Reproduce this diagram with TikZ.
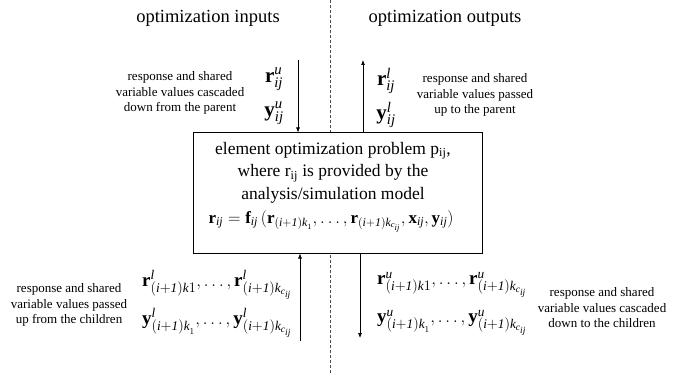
\documentclass[tikz,border=0pt]{standalone}
\usepackage{fontspec}
\setmainfont{Liberation Serif}
\setmathrm{Liberation Serif}
\setboldmathrm{Liberation Serif}
\usetikzlibrary{arrows.meta}
\newcommand\sij{\mathit{ij}}
\newcommand\kidx{\mathit{(i{+}1)k}}
\newcommand\kc{\mathit{k}_{\mathit{c}_{\mathit{ij}}}}
\tikzset{
  conn/.style={line width=0.7pt, -{Latex[length=5pt,width=4pt]}},
  divider/.style={line width=0.8pt, black!70, dash pattern=on 3pt off 2pt},
  title/.style={font=\fontsize{18.5}{22}\selectfont, inner sep=0pt},
  note/.style={font=\fontsize{13}{15.5}\selectfont, align=center, inner sep=0pt},
  bigmath/.style={font=\fontsize{21}{24}\selectfont, inner sep=0pt},
  midmath/.style={font=\fontsize{19}{24}\selectfont, inner sep=0pt},
  eqmath/.style={font=\fontsize{17}{22}\selectfont, inner sep=0pt},
  probbox/.style={draw, fill=white, line width=1pt, minimum width=289pt, minimum height=120pt, inner sep=0pt}
}
\begin{document}
\begin{tikzpicture}[x=1pt,y=-1pt]
\useasboundingbox (0,0) rectangle (698,374);
% divider
\coordinate (dtop) at (330,0);
\coordinate (dbot) at (330,374);
\draw[divider] (dtop) -- (dbot);
% titles
\node[title] (tin) at (208,18) {optimization inputs};
\node[title] (tout) at (445,18) {optimization outputs};
% box
\node[probbox] (box) at (337.5,193) {};
\node[font=\fontsize{17.5}{22.5}\selectfont, align=center, anchor=north, inner sep=0pt] (boxtext) at (333,142)
  {element optimization problem p\textsubscript{ij},\\ where r\textsubscript{ij} is provided by the\\ analysis/simulation model};
\node[eqmath, anchor=north] (eq) at (331,210)
  {$\mathbf{r}_{\sij}=\mathbf{f}_{\sij}\,\mathrm{(}\mathbf{r}_{\kidx_1},\ldots,\mathbf{r}_{\mathit{(i{+}1)}\kc},\mathbf{x}_{\sij},\mathbf{y}_{\sij}\mathrm{)}$};
% top arrows
\coordinate (inTop) at (298,60);
\coordinate (outTop) at (363,60);
\draw[conn] (inTop) -- (inTop |- box.north);
\draw[conn] (outTop |- box.north) -- (outTop);
% bottom arrows
\coordinate (inBot) at (300,341);
\coordinate (outBot) at (360,338);
\draw[conn] (inBot) -- (inBot |- box.south);
\draw[conn] (outBot |- box.south) -- (outBot);
% top math
\node[bigmath] (rU) at (274,79) {$\mathbf{r}_{\sij}^{\mathit{u}}$};
\node[bigmath] (yU) at (274,113) {$\mathbf{y}_{\sij}^{\mathit{u}}$};
\node[bigmath] (rL) at (386,81) {$\mathbf{r}_{\sij}^{\mathit{l}}$};
\node[bigmath] (yL) at (386,115) {$\mathbf{y}_{\sij}^{\mathit{l}}$};
% top notes
\node[note] (nIn) at (180,93) {response and shared\\ variable values cascaded\\ down from the parent};
\node[note] (nOut) at (475,95) {response and shared\\ variable values passed\\ up to the parent};
% bottom math
\node[midmath] (rLc) at (217,285) {$\mathbf{r}_{\kidx 1}^{\mathit{l}},\ldots,\mathbf{r}_{\mathit{(i{+}1)}\kc}^{\mathit{l}}$};
\node[midmath] (yLc) at (217,323) {$\mathbf{y}_{\kidx_1}^{\mathit{l}},\ldots,\mathbf{y}_{\mathit{(i{+}1)}\kc}^{\mathit{l}}$};
\node[midmath] (rUc) at (452,285) {$\mathbf{r}_{\kidx 1}^{\mathit{u}},\ldots,\mathbf{r}_{\mathit{(i{+}1)}\kc}^{\mathit{u}}$};
\node[midmath] (yUc) at (452,323) {$\mathbf{y}_{\kidx_1}^{\mathit{u}},\ldots,\mathbf{y}_{\mathit{(i{+}1)}\kc}^{\mathit{u}}$};
% bottom notes
\node[note] (nInc) at (69,305) {response and shared\\ variable values passed\\ up from the children};
\node[note] (nOutc) at (602,308) {response and shared\\ variable values cascaded\\ down to the children};
\end{tikzpicture}
\end{document}
